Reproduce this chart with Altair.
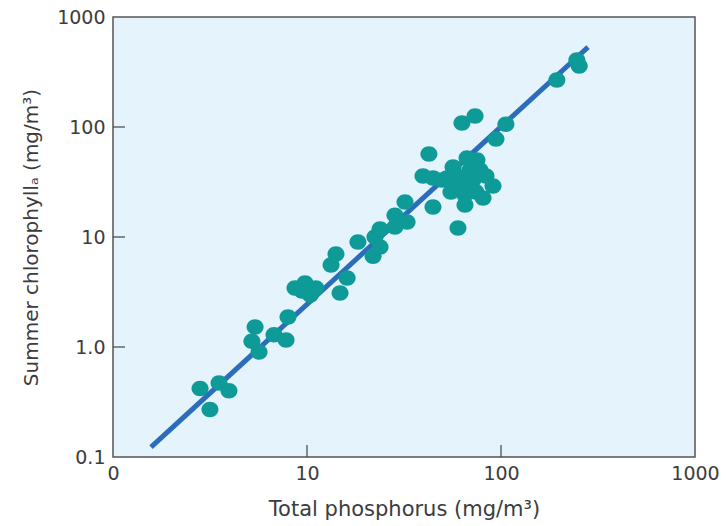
import altair as alt
import pandas as pd

# Total phosphorus (mg/m3) and summer chlorophyll a (mg/m3)
phosphorus = [2.81, 3.16, 3.52, 3.96, 5.40, 5.20, 5.66, 6.76, 7.80, 7.98,
              8.67, 9.77, 10.4, 11.1, 9.42, 14.8, 16.1, 13.3, 14.1, 18.3,
              21.9, 23.8, 22.4, 23.8, 28.4, 28.4, 32.8, 32.0, 42.5, 39.6,
              44.6, 49.6, 44.6, 55.2, 56.6, 60.0, 62.9, 73.5, 66.8, 75.2,
              65.2, 80.8, 90.9, 77.9, 67.6, 61.5, 71.7, 94.2, 106, 194,
              246, 253, 69.2, 83.7, 59.3, 74.3, 52.7, 65.2]
chlorophyll = [0.42, 0.27, 0.47, 0.40, 1.52, 1.13, 0.90, 1.29, 1.16, 1.87,
               3.44, 3.82, 2.97, 3.44, 3.23, 3.10, 4.24, 5.56, 7.0, 9.0,
               6.7, 8.1, 10.0, 11.8, 15.8, 12.3, 13.7, 20.8, 56.9, 35.9,
               34.4, 33.0, 18.7, 25.6, 43.3, 12.1, 109, 126, 52.3, 50.1,
               19.5, 22.6, 29.1, 40.6, 29.7, 35.1, 33.0, 77.8, 106, 267,
               406, 359, 40.6, 35.9, 29.7, 25.6, 34.4, 24.1]

# Regression line end points
line_x = [1.57, 281]
line_y = [0.123, 533]

x_ticks = [1, 10, 100, 1000]
y_ticks = [0.1, 1, 10, 100, 1000]
x_inner_ticks = [10, 100]
y_inner_ticks = [1, 10, 100]

pts = pd.DataFrame({"tp": phosphorus, "chl": chlorophyll})
line_df = pd.DataFrame({"tp": line_x, "chl": line_y})
xt_df = pd.DataFrame({"tp": x_inner_ticks})
yt_df = pd.DataFrame({"chl": y_inner_ticks})

FONT = "DejaVu Sans"
TXT = "#3c3c3c"

xscale = alt.Scale(type="log", domain=[1, 1000], nice=False)
yscale = alt.Scale(type="log", domain=[0.1, 1000], nice=False)

xaxis = alt.Axis(
    title="Total phosphorus (mg/m³)", values=x_ticks, ticks=False, domain=False,
    grid=False, labelExpr="datum.value == 1 ? '0' : toString(datum.value)",
    labelFont=FONT, labelFontSize=19, labelColor=TXT, labelPadding=7,
    titleFont=FONT, titleFontSize=21, titleColor=TXT, titleFontWeight="normal",
    titlePadding=15, labelFlush=False, labelOverlap=False,
)
yaxis = alt.Axis(
    title="Summer chlorophyllₐ (mg/m³)", values=y_ticks, ticks=False, domain=False,
    grid=False,
    labelExpr="datum.value == 0.1 ? '0.1' : (datum.value == 1 ? '1.0' : toString(datum.value))",
    labelFont=FONT, labelFontSize=19, labelColor=TXT, labelPadding=8,
    titleFont=FONT, titleFontSize=20, titleColor=TXT, titleFontWeight="normal",
    titlePadding=15, labelFlush=False, labelOverlap=False,
)

line = alt.Chart(line_df).mark_line(color="#2B6DBA", strokeWidth=5, strokeCap="butt").encode(
    x=alt.X("tp:Q", scale=xscale, axis=xaxis),
    y=alt.Y("chl:Q", scale=yscale, axis=yaxis),
)

ellipse = "M -1.1 0 A 1.1 1 0 1 0 1.1 0 A 1.1 1 0 1 0 -1.1 0 Z"
points = alt.Chart(pts).mark_point(
    shape=ellipse, size=240, filled=True, color="#0E9A97", opacity=1, strokeWidth=0
).encode(
    x=alt.X("tp:Q", scale=xscale),
    y=alt.Y("chl:Q", scale=yscale),
)

xt = alt.Chart(xt_df).mark_rule(color="#444444", strokeWidth=1.2).encode(
    x=alt.X("tp:Q", scale=xscale),
    y=alt.value(440), y2=alt.value(428),
)
yt = alt.Chart(yt_df).mark_rule(color="#444444", strokeWidth=1.2).encode(
    y=alt.Y("chl:Q", scale=yscale),
    x=alt.value(0), x2=alt.value(12),
)

chart = alt.layer(line, xt, yt, points).properties(
    width=582, height=440,
    autosize=alt.AutoSizeParams(type="none"),
    padding={"left": 113, "top": 17, "right": 31, "bottom": 69},
    background="white",
).configure_view(fill="#E4F3FC", stroke="#555555", strokeWidth=1.5)

chart.save("out.html", embed_options={"renderer": "svg", "actions": False})
